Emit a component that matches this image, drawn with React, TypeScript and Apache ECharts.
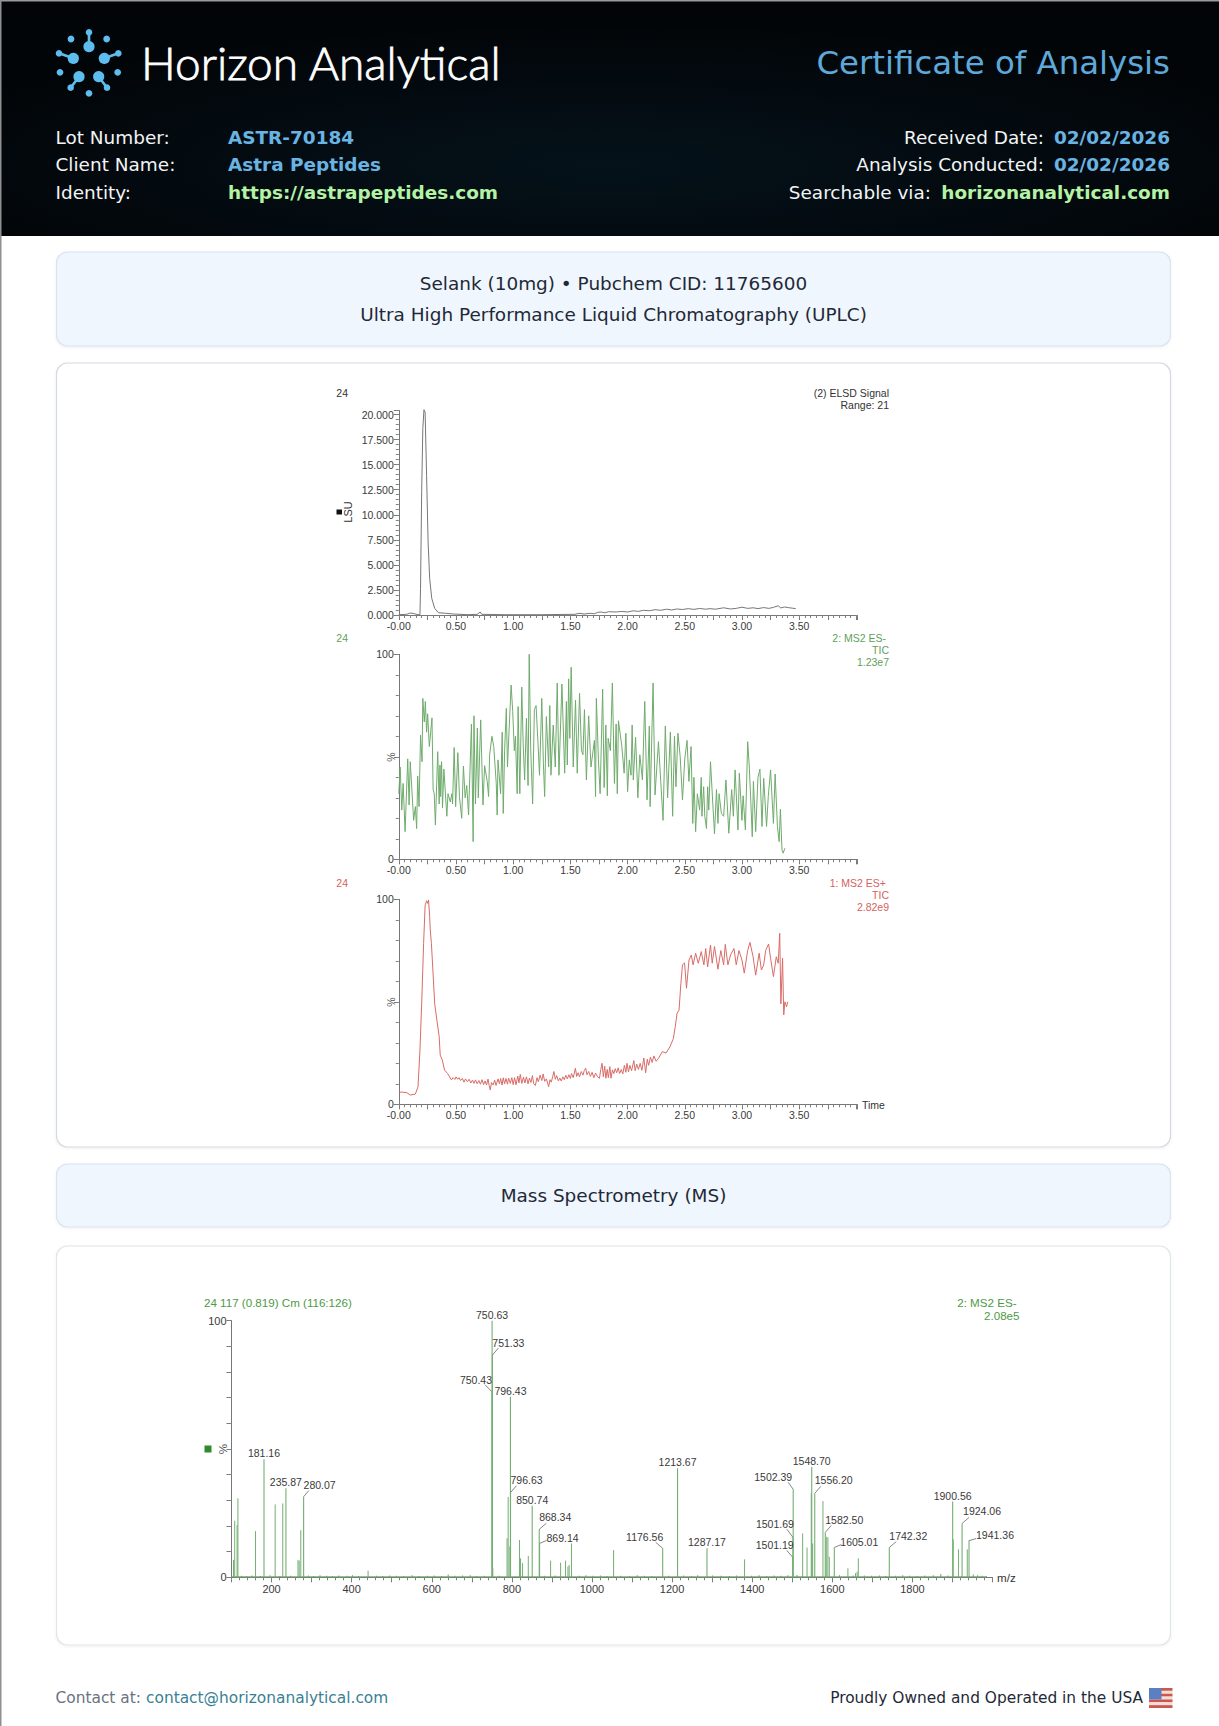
import React, { useEffect, useRef } from "react";
import * as echarts from "echarts";

// ---------- header / page text ----------
const brandName = "Horizon Analytical";
const certTitle = "Certificate of Analysis";
const leftRows = [
  ["Lot Number:", "ASTR-70184", "blue"],
  ["Client Name:", "Astra Peptides", "blue"],
  ["Identity:", "https://astrapeptides.com", "green"],
];
const rightRows = [
  ["Received Date:", "02/02/2026", "blue"],
  ["Analysis Conducted:", "02/02/2026", "blue"],
  ["Searchable via:", "horizonanalytical.com", "green"],
];
const titleLines = ["Selank (10mg) \u2022 Pubchem CID: 11765600", "Ultra High Performance Liquid Chromatography (UPLC)"];
const msTitle = "Mass Spectrometry (MS)";

// ---------- chromatogram data: [time, signal] ----------
const timeLabels = [0, 0.5, 1, 1.5, 2, 2.5, 3, 3.5];

const elsdTrace: [number, number][] = [
  [0, 0.03], [0.07, 0.07], [0.1, 0.2], [0.136, 0.13], [0.168, 0.03], [0.185, 0.03], [0.19, 2.65], [0.2, 12.3], [0.21, 18.6], [0.22, 20.48], [0.23, 20.25],
  [0.243, 13.9], [0.256, 7.3], [0.27, 3.65], [0.288, 1.66], [0.314, 0.66], [0.346, 0.23], [0.41, 0.17], [0.476, 0.1], [0.605, 0.03], [0.686, 0.07], [0.712, 0.3],
  [0.725, 0.07], [0.93, 0.03], [1.25, 0.03], [1.54, 0.07], [1.576, 0.17], [1.62, 0.1], [1.673, 0.17], [1.71, 0.12], [1.74, 0.27], [1.77, 0.3], [1.8, 0.22], [1.835, 0.33],
  [1.9, 0.3], [1.95, 0.36], [2.0, 0.3], [2.05, 0.42], [2.094, 0.36], [2.14, 0.47], [2.19, 0.42], [2.24, 0.53], [2.29, 0.47], [2.34, 0.58], [2.385, 0.5], [2.43, 0.6],
  [2.48, 0.55], [2.53, 0.63], [2.58, 0.56], [2.63, 0.65], [2.68, 0.58], [2.72, 0.63], [2.77, 0.58], [2.84, 0.72], [2.9, 0.6], [2.95, 0.66], [3.0, 0.78], [3.05, 0.66], [3.097, 0.72],
  [3.14, 0.64], [3.19, 0.74], [3.235, 0.66], [3.275, 0.76], [3.317, 0.92], [3.34, 0.7], [3.37, 0.8], [3.405, 0.74], [3.44, 0.68], [3.47, 0.64],
];

const esNegTrace: [number, number][] = [
  [0, 32], [0.012, 45], [0.026, 24], [0.038, 37], [0.055, 13.5], [0.078, 49], [0.09, 26.5], [0.1, 47.6], [0.13, 19], [0.145, 25.7], [0.156, 15], [0.165, 40.6], [0.177, 25.7],
  [0.19, 60.6], [0.203, 47.6], [0.21, 78.5], [0.223, 67], [0.232, 77], [0.243, 62], [0.252, 71], [0.267, 55], [0.29, 69], [0.3, 34], [0.31, 32], [0.32, 16.7], [0.34, 52.5],
  [0.353, 27], [0.36, 46], [0.365, 30.6], [0.374, 47.6], [0.382, 25], [0.394, 44], [0.42, 21], [0.43, 32], [0.45, 28], [0.464, 32], [0.47, 27], [0.484, 54.5], [0.497, 25.7],
  [0.516, 52], [0.53, 30.6], [0.55, 20], [0.565, 45.5], [0.58, 30], [0.594, 36], [0.61, 21.6], [0.635, 66], [0.65, 8.6], [0.657, 70], [0.67, 27], [0.687, 64], [0.695, 30],
  [0.716, 68], [0.736, 26.5], [0.75, 45.7], [0.773, 38], [0.785, 30.6], [0.794, 51], [0.814, 60], [0.83, 55], [0.852, 37], [0.86, 21.6], [0.867, 48.5], [0.89, 32], [0.904, 62],
  [0.913, 22.4], [0.925, 53], [0.94, 73.6], [0.95, 45], [0.965, 64], [0.982, 85], [0.996, 72], [1.01, 53], [1.02, 60], [1.035, 32], [1.043, 74.5], [1.058, 32], [1.075, 84],
  [1.087, 56.6], [1.1, 38.7], [1.116, 68.8], [1.13, 36], [1.14, 100], [1.153, 54], [1.17, 27], [1.185, 73], [1.2, 75], [1.217, 56.6], [1.23, 41], [1.25, 78.5], [1.264, 47],
  [1.275, 30.6], [1.29, 69.6], [1.31, 45], [1.32, 75], [1.33, 41], [1.35, 65.5], [1.368, 45], [1.385, 86], [1.4, 41], [1.426, 85.5], [1.45, 42], [1.465, 77], [1.473, 46],
  [1.485, 88], [1.495, 59], [1.507, 93.7], [1.525, 45], [1.545, 77.7], [1.56, 42], [1.58, 81], [1.597, 53], [1.61, 51], [1.623, 73], [1.64, 38.7], [1.66, 70], [1.68, 45],
  [1.71, 58], [1.72, 30.6], [1.727, 78.5], [1.745, 48.5], [1.76, 32], [1.782, 83], [1.795, 35], [1.81, 65.5], [1.823, 31], [1.83, 59], [1.85, 53], [1.867, 86], [1.885, 37],
  [1.9, 66], [1.91, 32], [1.92, 67.6], [1.95, 55], [1.97, 42], [1.985, 61.5], [2.0, 33], [2.015, 48.5], [2.03, 41], [2.04, 65.5], [2.05, 38.7], [2.07, 59.5], [2.09, 30],
  [2.107, 51], [2.13, 38.7], [2.15, 77], [2.17, 29], [2.19, 65], [2.197, 25.7], [2.223, 86], [2.24, 31.4], [2.27, 57.4], [2.29, 38], [2.31, 19], [2.33, 65], [2.35, 30],
  [2.374, 62], [2.394, 21], [2.41, 60], [2.423, 35.4], [2.44, 61.5], [2.46, 50], [2.48, 29], [2.5, 49], [2.52, 58], [2.536, 38], [2.555, 55], [2.57, 17.5], [2.58, 40],
  [2.595, 13.5], [2.61, 32], [2.63, 24], [2.644, 40], [2.65, 21], [2.665, 35.4], [2.675, 21], [2.69, 15], [2.7, 35.4], [2.71, 24], [2.725, 47.6], [2.745, 27], [2.76, 12.4],
  [2.777, 34], [2.79, 17.5], [2.8, 32], [2.82, 22.4], [2.84, 21], [2.86, 38.7], [2.885, 12.7], [2.91, 34], [2.925, 21], [2.94, 43.6], [2.965, 14.3], [2.977, 42], [3.0, 19],
  [3.01, 31], [3.03, 14.3], [3.05, 57.4], [3.063, 46], [3.077, 29], [3.09, 11], [3.1, 38], [3.12, 13.5], [3.14, 40], [3.157, 44], [3.175, 16], [3.19, 39.5], [3.215, 16],
  [3.23, 30.6], [3.25, 43.6], [3.275, 17.5], [3.29, 41.6], [3.31, 16], [3.325, 8.6], [3.336, 24.4], [3.35, 4.5], [3.36, 3], [3.375, 5.4],
];

const esPosTrace: [number, number][] = [
  [0, 5.7], [0.02, 6], [0.07, 5.7], [0.1, 4.5], [0.145, 5], [0.168, 8.6], [0.185, 26.5], [0.2, 49], [0.217, 78.5], [0.23, 97], [0.243, 99.3], [0.252, 98], [0.26, 99.7], [0.27, 91.5],
  [0.275, 85], [0.285, 78.5], [0.298, 65.5], [0.314, 49], [0.333, 41], [0.353, 33], [0.362, 24], [0.38, 21.6], [0.4, 16.7], [0.427, 15], [0.46, 11.9], [0.475, 13], [0.49, 12.1], [0.5, 13.4],
  [0.515, 12.2], [0.527, 13], [0.54, 11.6], [0.556, 12.6], [0.57, 10.8], [0.583, 12.4], [0.6, 11], [0.615, 12.2], [0.63, 10.4], [0.644, 11.8], [0.657, 10.2], [0.67, 11.9], [0.685, 10],
  [0.7, 11.6], [0.713, 9.8], [0.728, 12], [0.741, 9.6], [0.754, 11.4], [0.767, 9.4], [0.78, 12.3], [0.79, 9.2], [0.8, 7], [0.81, 10.6], [0.825, 9.4], [0.838, 11.8], [0.85, 9.2], [0.868, 12.4],
  [0.88, 10], [0.89, 12.6], [0.903, 9.4], [0.913, 12.9], [0.925, 10], [0.937, 12.6], [0.95, 9.8], [0.96, 12.8], [0.975, 10.2], [0.988, 13], [1.0, 9.6], [1.012, 13], [1.025, 9.5], [1.04, 13.8],
  [1.05, 10.4], [1.062, 14.6], [1.075, 10.2], [1.09, 13.2], [1.102, 10.4], [1.116, 13.4], [1.13, 10], [1.142, 12.8], [1.155, 10.6], [1.168, 14], [1.18, 10], [1.194, 9.2], [1.208, 13], [1.22, 11],
  [1.235, 14.2], [1.25, 11.6], [1.262, 14.8], [1.275, 11.2], [1.29, 12.4], [1.31, 8.6], [1.322, 12], [1.333, 10.8], [1.345, 13.4], [1.356, 16], [1.368, 12.2], [1.38, 14], [1.395, 11.4],
  [1.408, 12.8], [1.42, 11.4], [1.435, 13.4], [1.447, 12], [1.46, 14.2], [1.473, 12.4], [1.487, 14.4], [1.5, 12.6], [1.51, 15], [1.525, 13], [1.544, 17.6], [1.555, 13.6], [1.568, 15.4],
  [1.58, 13.4], [1.595, 16], [1.61, 14.2], [1.622, 16.6], [1.634, 17.6], [1.645, 14.4], [1.66, 16], [1.675, 13.6], [1.69, 15.6], [1.705, 13], [1.72, 15.2], [1.738, 13.4], [1.754, 12.7],
  [1.766, 17], [1.777, 20], [1.788, 13.4], [1.8, 18.6], [1.81, 12.7], [1.822, 17], [1.832, 13], [1.845, 18.4], [1.855, 12.7], [1.868, 16.8], [1.88, 15], [1.892, 17.4], [1.905, 15.4],
  [1.918, 17.8], [1.93, 15], [1.945, 17], [1.958, 14.8], [1.972, 19], [1.985, 15.6], [1.995, 20], [2.008, 15.8], [2.02, 19], [2.035, 16.4], [2.055, 21.3], [2.066, 16.4], [2.08, 19.6],
  [2.095, 17], [2.11, 20], [2.125, 16.6], [2.142, 22.6], [2.158, 15.4], [2.172, 22], [2.184, 19], [2.2, 23], [2.215, 20.4], [2.23, 23.6], [2.25, 21], [2.27, 22.4],
  [2.304, 25.7], [2.336, 25], [2.37, 28], [2.4, 32], [2.417, 38], [2.433, 44.4], [2.45, 46], [2.466, 59], [2.48, 68], [2.498, 69], [2.515, 56.6], [2.537, 70.4], [2.557, 72.8],
  [2.573, 68], [2.595, 73.7], [2.618, 68.8], [2.644, 74.5], [2.667, 68], [2.683, 76], [2.7, 67], [2.725, 77.7], [2.74, 68.8], [2.76, 77], [2.79, 65.9], [2.815, 75], [2.84, 68],
  [2.854, 78], [2.877, 68], [2.9, 72.8], [2.93, 76], [2.95, 68], [2.974, 75], [3.0, 70.4], [3.02, 64], [3.05, 75], [3.07, 79], [3.097, 72], [3.12, 63], [3.15, 73.7], [3.17, 65.5],
  [3.19, 68], [3.207, 75], [3.233, 78.2], [3.25, 71.2], [3.275, 62.3], [3.3, 72], [3.317, 68.8], [3.33, 83.4], [3.34, 49], [3.355, 71.2], [3.365, 43.6], [3.375, 50], [3.39, 47.6], [3.4, 50],
];

// ---------- mass spectrum data: [m/z, %] ----------
const massLabels = [200, 400, 600, 800, 1000, 1200, 1400, 1600, 1800];

const labelledPeaks: [number, number][] = [
  [181.16, 46], [235.87, 34.7], [280.07, 31.4], [750.63, 100], [751.33, 86.6], [750.43, 72.3], [796.43, 70.4], [796.63, 33], [850.74, 27.9], [868.34, 18.7], [869.14, 13.2],
  [1176.56, 11.3], [1213.67, 42.5], [1287.17, 11.3], [1501.19, 7.8], [1501.69, 15.6], [1502.39, 34.3], [1548.7, 43], [1556.2, 32.7], [1582.5, 17.5], [1605.01, 11.6], [1742.32, 11.6],
  [1900.56, 29.5], [1924.06, 21], [1941.36, 14.3],
];

const otherPeaks: [number, number][] = [
  [105, 6.8], [108, 22], [114, 20.4], [116, 30.8], [160, 18], [209, 28.4], [228, 28.8], [266, 6.8], [269, 6.5], [273, 18.4], [441, 2.6], [752.5, 3.5], [788, 15.2], [790.8, 31.3],
  [795, 12], [819, 14.5], [821.7, 7.4], [826.7, 5.5], [841, 8.3], [896.7, 6.5], [921.7, 5.7], [934, 6.5], [940, 4.2], [943, 4.8], [949, 13.2], [1054, 10.6], [1381, 7], [1526, 17.1],
  [1537, 11.6], [1547.5, 32.7], [1551, 13.2], [1576.7, 29.7], [1585, 15.8], [1589, 15.6], [1592.5, 8], [1639, 3.5], [1658, 1.6], [1662, 2.2], [1665, 7.4], [1902, 14.8], [1915, 10.9], [1937, 10.9],
];

const baselineLevel: [number, number][] = [[100, 0.2], [1985, 0.2]];

const baselineBumps: [number, number][] = [
  [125, 0.6], [138, 0.5], [151, 0.7], [172, 0.5], [196, 0.8], [221, 0.5], [248, 0.6], [292, 0.7], [305, 0.5], [321, 0.8], [338, 0.6], [352, 0.5], [368, 0.7], [389, 0.6], [402, 0.8], [417, 0.5],
  [462, 0.6], [478, 0.5], [495, 0.7], [512, 0.6], [530, 0.5], [551, 0.8], [568, 0.5], [589, 0.6], [606, 0.7], [625, 0.5], [641, 1.1], [658, 0.6], [677, 0.7], [696, 0.8], [712, 0.5], [731, 0.6],
  [768, 0.6], [881, 0.6], [908, 0.7], [968, 0.6], [985, 0.8], [1002, 0.6], [1021, 0.7], [1038, 0.5], [1072, 0.6], [1094, 0.5], [1113, 0.8], [1131, 0.6], [1150, 0.5], [1192, 0.6], [1229, 0.7],
  [1248, 0.5], [1264, 0.8], [1301, 0.7], [1322, 0.6], [1343, 0.5], [1361, 0.7], [1398, 0.6], [1417, 0.8], [1436, 0.5], [1455, 0.7], [1472, 0.6], [1489, 0.8], [1512, 0.9], [1618, 0.8], [1652, 0.7],
  [1680, 0.7], [1698, 0.6], [1718, 0.7], [1733, 0.5], [1758, 0.6], [1776, 0.8], [1793, 0.6], [1812, 0.5], [1831, 0.7], [1852, 0.8], [1871, 1.3], [1889, 0.7], [1952, 1.1], [1963, 0.8], [1974, 0.6], [1985, 0.5],
];

// Label placement, one entry per labelledPeaks row: text offset and leader end, in px from the peak top.
const labelPlacement: [number, number, number, number][] = [
  [0, -6, 0, 0], [0, -6, 0, 0], [16, -12, 5, -6], [0, -6, 0, 0], [16, -12, 6, -7], [-16, -12, -7, -7], [0, -6, 0, 0], [16, -13, 6, -7], [0, -6, 0, 0], [16, -12, 7, -6], [23, -5, 7, -3],
  [-18, -11, -7, -6], [0, -6, 0, 0], [0, -6, 0, 0], [-18, -12, -6, -7], [-18, -13, -6, -8], [-20, -12, -5, -7], [0, -6, 0, 0], [19, -13, 6, -7], [19, -12, 6, -7], [25, -6, 7, -3], [19, -12, 7, -6],
  [0, -6, 0, 0], [20, -12, 7, -6], [26, -6, 7, -2],
];

const GREY = "#777777";
const TXT = "#3a3a3a";
const CHART_FONT = "'Liberation Sans', Arial, sans-serif";
const PAGE_FONT = "'DejaVu Sans', sans-serif";
const GREEN = "#6fab6c";
const GREEN_TEXT = "#5f9f5c";
const RED = "#d96c68";
const RED_TEXT = "#d4625e";

function steps(from: number, to: number, step: number): number[] {
  const out: number[] = [];
  const n = Math.round((to - from) / step);
  for (let i = 0; i <= n; i++) out.push(+(from + i * step).toFixed(4));
  return out;
}

function xPair(grid: number, min: number, max: number, labels: number[], major: number, minor: number, fmt: (v: number) => string, font: number, margin: number) {
  return [
    {
      type: "value", gridIndex: grid, min, max, interval: major, position: "bottom", splitLine: { show: false },
      axisLine: { show: true, onZero: false, lineStyle: { color: GREY, width: 1 } },
      axisTick: { show: true, length: 5, lineStyle: { color: GREY, width: 1 } },
      axisLabel: { show: true, customValues: labels, formatter: fmt, color: TXT, fontSize: font, fontFamily: CHART_FONT, margin },
    },
    {
      type: "value", gridIndex: grid, min, max, interval: minor, position: "bottom", splitLine: { show: false },
      axisLine: { show: false, onZero: false },
      axisTick: { show: true, length: 3, lineStyle: { color: "#808080", width: 1 } },
      axisLabel: { show: false },
    },
  ];
}

function yPair(grid: number, min: number, max: number, labels: number[], major: number, minor: number, fmt: (v: number) => string, font: number) {
  return [
    {
      type: "value", gridIndex: grid, min, max, interval: major, position: "left", splitLine: { show: false },
      axisLine: { show: true, onZero: false, lineStyle: { color: GREY, width: 1 } },
      axisTick: { show: true, length: 5, lineStyle: { color: GREY, width: 1 } },
      axisLabel: { show: true, customValues: labels, formatter: fmt, color: TXT, fontSize: font, fontFamily: CHART_FONT, margin: 5 },
    },
    {
      type: "value", gridIndex: grid, min, max, interval: minor, position: "left", splitLine: { show: false },
      axisLine: { show: false, onZero: false },
      axisTick: { show: true, length: 3, lineStyle: { color: "#808080", width: 1 } },
      axisLabel: { show: false },
    },
  ];
}

function txt(text: string, x: number, y: number, o: any = {}) {
  const { rotation, z, ...style } = o;
  const align = style.align || "left";
  return {
    type: "text", x, y, rotation: rotation || 0, z: z ?? 5, silent: true,
    style: {
      text, x: 0, y: 0, fontFamily: PAGE_FONT, fontSize: 18.45, fill: "#1f2937",
      align, textAlign: align, verticalAlign: "middle", textVerticalAlign: "middle", ...style,
    },
  };
}
const ct = (text: string, x: number, y: number, fill: string, o: any = {}) => txt(text, x, y, { fontFamily: CHART_FONT, fontSize: 10.5, fill, ...o });

function panel(x: number, y: number, w: number, h: number, fill: string, stroke: string) {
  return {
    type: "rect", z: -2, silent: true, shape: { x, y, width: w, height: h, r: 11 },
    style: { fill, stroke, lineWidth: 1.2, shadowBlur: 3, shadowColor: "rgba(0,0,0,0.06)", shadowOffsetY: 1 },
  };
}

function logo() {
  const c = "#5dbdee";
  const ox = 40, oy = 20, k = 1 / 3;
  const big = [[147, 80], [100, 115], [193, 115], [117, 170], [176, 170]];
  const tip = [[147, 37], [57, 100], [235, 100], [92, 203], [201, 203]];
  const lone = [[93, 57], [200, 57], [60, 157], [233, 157], [147, 220]];
  const out: any[] = [];
  big.forEach((b, i) => {
    out.push({ type: "line", z: 3, silent: true, shape: { x1: ox + b[0] * k, y1: oy + b[1] * k, x2: ox + tip[i][0] * k, y2: oy + tip[i][1] * k }, style: { stroke: c, lineWidth: 2.6 } });
    out.push({ type: "circle", z: 3, silent: true, shape: { cx: ox + b[0] * k, cy: oy + b[1] * k, r: 5.6 }, style: { fill: c } });
    out.push({ type: "circle", z: 3, silent: true, shape: { cx: ox + tip[i][0] * k, cy: oy + tip[i][1] * k, r: 3.3 }, style: { fill: c } });
  });
  lone.forEach((b) => out.push({ type: "circle", z: 3, silent: true, shape: { cx: ox + b[0] * k, cy: oy + b[1] * k, r: 3.4 }, style: { fill: c } }));
  return out;
}

function flag() {
  const out: any[] = [];
  const x = 1149, y = 1688, w = 23.5, n = 7, bh = 20 / n;
  for (let i = 0; i < n; i++) {
    out.push({ type: "rect", z: 3, silent: true, shape: { x, y: y + i * bh, width: w, height: bh }, style: { fill: i % 2 ? "#f4dcd8" : "#c9584e" } });
  }
  out.push({ type: "rect", z: 4, silent: true, shape: { x, y, width: 12.5, height: bh * 4 }, style: { fill: "#5b7fc0" } });
  return out;
}

function buildOption() {
  const blue = "#69b4e2";
  const lime = "#b4f3a4";
  const rowsY = [137.5, 164.5, 192];
  const colour = (k: string) => (k === "blue" ? blue : lime);
  const rightLabelEnd = [1044, 1044, 931];
  const footerSize = 15.4;

  const graphic: any[] = [
    { type: "rect", z: -3, silent: true, shape: { x: 0, y: 0, width: 1219, height: 1726 }, style: { fill: "#ffffff" } },
    {
      type: "rect", z: -2, silent: true, shape: { x: 0, y: 0, width: 1219, height: 236 },
      style: {
        fill: new echarts.graphic.RadialGradient(0.5, 0.7, 0.6, [
          { offset: 0, color: "#05121a" },
          { offset: 1, color: "#020508" },
        ]),
      },
    },
    { type: "rect", z: -1, silent: true, shape: { x: 0, y: 0, width: 1219, height: 1.5 }, style: { fill: "#9a9a9a" } },
    { type: "rect", z: -1, silent: true, shape: { x: 0, y: 0, width: 1.5, height: 1726 }, style: { fill: "#8f8f8f" } },
    ...logo(),
    txt(brandName, 141, 62, { fill: "#ffffff", stroke: "#ffffff", lineWidth: 0.8, fontFamily: "Lato, sans-serif", fontWeight: 300, fontSize: 46 }),
    txt(certTitle, 1170, 63, { fill: "#5fa9d9", fontSize: 32.4, align: "right" }),
    ...leftRows.flatMap((r, i) => [
      txt(r[0], 55.5, rowsY[i], { fill: "#f2f4f6" }),
      txt(r[1], 228, rowsY[i], { fill: colour(r[2]), fontWeight: "bold" }),
    ]),
    ...rightRows.flatMap((r, i) => [
      txt(r[0], rightLabelEnd[i], rowsY[i], { fill: "#f2f4f6", align: "right" }),
      txt(r[1], 1170, rowsY[i], { fill: colour(r[2]), fontWeight: "bold", align: "right" }),
    ]),
    panel(56.5, 252, 1114, 94, "#f0f6fd", "#d9e4ef"),
    txt(titleLines[0], 613.5, 283.5, { align: "center" }),
    txt(titleLines[1], 613.5, 314.5, { align: "center" }),
    panel(56.5, 363, 1114, 784, "#ffffff", "#d4dae1"),
    panel(56.5, 1164, 1114, 63, "#f0f6fd", "#d9e4ef"),
    txt(msTitle, 613.5, 1195.5, { align: "center" }),
    panel(56.5, 1246, 1114, 399, "#ffffff", "#e0e5ea"),

    // chromatogram annotations
    ct("24", 336.3, 393, "#333333"),
    ct("(2) ELSD Signal", 889, 393, "#333333", { align: "right" }),
    ct("Range: 21", 889, 405, "#333333", { align: "right" }),
    { type: "rect", z: 5, silent: true, shape: { x: 336.5, y: 509.5, width: 5.5, height: 5 }, style: { fill: "#111111" } },
    ct("LSU", 347.7, 512, "#333333", { rotation: Math.PI / 2, align: "center", fontSize: 11 }),
    ct("24", 336.3, 638, GREEN_TEXT),
    ct("2: MS2 ES-", 886, 638, GREEN_TEXT, { align: "right" }),
    ct("TIC", 889, 650, GREEN_TEXT, { align: "right" }),
    ct("1.23e7", 889, 662, GREEN_TEXT, { align: "right" }),
    ct("%", 390.5, 757, "#555555", { rotation: Math.PI / 2, align: "center" }),
    ct("24", 336.3, 883, RED_TEXT),
    ct("1: MS2 ES+", 886, 883, RED_TEXT, { align: "right" }),
    ct("TIC", 889, 895, RED_TEXT, { align: "right" }),
    ct("2.82e9", 889, 907, RED_TEXT, { align: "right" }),
    ct("%", 390.5, 1002, "#555555", { rotation: Math.PI / 2, align: "center" }),
    ct("Time", 862, 1105, "#333333"),

    // spectrum annotations
    ct("24 117 (0.819) Cm (116:126)", 204, 1302.5, "#4e9a45", { fontSize: 11.6 }),
    ct("2: MS2 ES-", 1016.5, 1302.5, "#4e9a45", { align: "right", fontSize: 11.6 }),
    ct("2.08e5", 1019.5, 1315.5, "#4e9a45", { align: "right", fontSize: 11.6 }),
    { type: "rect", z: 5, silent: true, shape: { x: 204.5, y: 1445.5, width: 7, height: 7 }, style: { fill: "#2e8b2e" } },
    ct("%", 222.7, 1449, "#555555", { rotation: Math.PI / 2, align: "center", fontSize: 11.6 }),
    ct("m/z", 997, 1577.5, "#333333", { fontSize: 11.6 }),

    // footer
    txt("Contact at:", 55.5, 1698, { fill: "#6b7280", fontSize: footerSize }),
    txt("contact@horizonanalytical.com", 146, 1698, { fill: "#3a7f94", fontSize: footerSize }),
    txt("Proudly Owned and Operated in the USA", 1143, 1698, { fill: "#1f2937", fontSize: footerSize, align: "right" }),
    ...flag(),
  ];

  const timeFmt = (v: number) => (v === 0 ? "-0.00" : v.toFixed(2));
  const plain = (v: number) => String(v);

  const grids = [
    { left: 398.8, width: 458.7, top: 410.5, height: 204.5 },
    { left: 398.8, width: 458.7, top: 654.3, height: 205 },
    { left: 398.8, width: 458.7, top: 899.3, height: 205 },
    { left: 231.5, width: 761, top: 1320.7, height: 256.6 },
  ];

  const xAxis = [
    ...xPair(0, 0, 4.01, timeLabels, 0.25, 0.05, timeFmt, 10.5, 5),
    ...xPair(1, 0, 4.01, timeLabels, 0.25, 0.05, timeFmt, 10.5, 5),
    ...xPair(2, 0, 4.01, timeLabels, 0.25, 0.05, timeFmt, 10.5, 5),
    ...xPair(3, 100, 2000, massLabels, 100, 20, plain, 11, 6),
  ];
  const yAxis = [
    ...yPair(0, 0, 20.4, steps(0, 20, 2.5), 2.5, 0.5, (v) => v.toFixed(3), 10.5),
    ...yPair(1, 0, 100, [0, 100], 50, 10, plain, 10.5),
    ...yPair(2, 0, 100, [0, 100], 50, 10, plain, 10.5),
    ...yPair(3, 0, 100, [0, 100], 10, 10, plain, 11),
  ];

  const lineSeries = (data: [number, number][], axis: number, color: string) => ({
    type: "line", xAxisIndex: axis, yAxisIndex: axis, data, showSymbol: false, symbol: "none", silent: true, clip: false,
    lineStyle: { color, width: 1, join: "round" }, z: 3,
  });

  const stems = (data: [number, number][], width: number, color: string) => ({
    type: "custom", xAxisIndex: 6, yAxisIndex: 6, data, silent: true, clip: false, z: 3,
    renderItem: (_p: any, api: any) => {
      const top = api.coord([api.value(0), api.value(1)]);
      const base = api.coord([api.value(0), 0]);
      return { type: "line", shape: { x1: top[0], y1: top[1], x2: base[0], y2: base[1] }, style: { stroke: color, lineWidth: width } };
    },
  });

  const peakLabels = {
    type: "custom", xAxisIndex: 6, yAxisIndex: 6, data: labelledPeaks, silent: true, clip: false, z: 4,
    renderItem: (p: any, api: any) => {
      const mz = api.value(0);
      const top = api.coord([mz, api.value(1)]);
      const [dx, dy, lx, ly] = labelPlacement[p.dataIndex];
      const children: any[] = [
        {
          type: "text",
          style: {
            text: mz.toFixed(2), x: top[0] + dx, y: top[1] + dy, fill: "#3a3a3a", fontFamily: CHART_FONT, fontSize: 10.5,
            align: "center", textAlign: "center", verticalAlign: "middle", textVerticalAlign: "middle",
          },
        },
      ];
      if (lx !== 0 || ly !== 0) {
        children.push({ type: "line", shape: { x1: top[0], y1: top[1], x2: top[0] + lx, y2: top[1] + ly }, style: { stroke: "#777777", lineWidth: 0.9 } });
      }
      return { type: "group", children };
    },
  };

  return {
    animation: false,
    backgroundColor: "#ffffff",
    tooltip: { show: false },
    graphic: { elements: graphic },
    grid: grids.map((g) => ({ ...g, containLabel: false })),
    xAxis,
    yAxis,
    series: [
      lineSeries(elsdTrace, 0, "#777777"),
      lineSeries(esNegTrace, 2, GREEN),
      lineSeries(esPosTrace, 4, RED),
      lineSeries(baselineLevel, 6, "#6aa868"),
      stems(baselineBumps, 1, "#6aa868"),
      stems(otherPeaks, 1, "#74ae72"),
      stems(labelledPeaks, 1.1, "#74ae72"),
      peakLabels,
    ],
  };
}

export default function App() {
  const ref = useRef<HTMLDivElement>(null);
  useEffect(() => {
    document.body.style.margin = "0";
    const chart = echarts.init(ref.current as HTMLDivElement, undefined, { renderer: "svg" });
    chart.setOption(buildOption() as any);
    return () => chart.dispose();
  }, []);
  return <div ref={ref} style={{ width: 1219, height: 1726, display: "block" }} />;
}
